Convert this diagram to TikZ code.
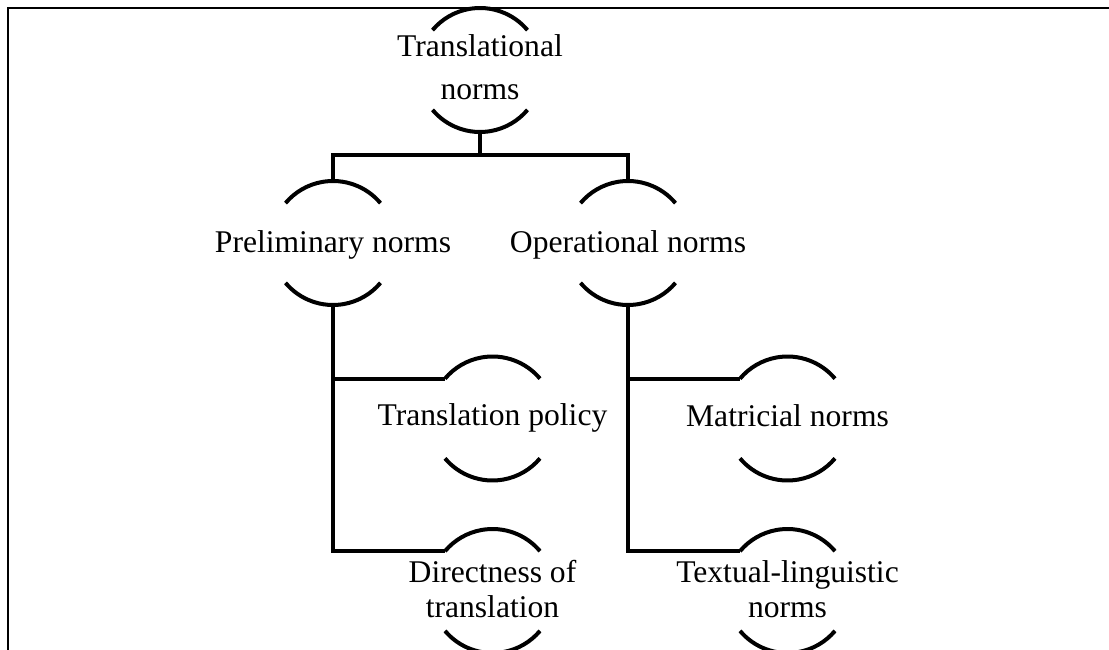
\documentclass[tikz,border=0pt]{standalone}
\usepackage{fontspec}
\setmainfont{Liberation Serif}
\begin{document}
\begin{tikzpicture}[x=1pt,y=1pt,
  hub/.style={circle,draw=none,minimum size=124pt,inner sep=0pt,outer sep=0pt},
  lbl/.style={anchor=base,inner sep=0pt,font=\fontsize{31.6pt}{38pt}\selectfont},
  arcline/.style={line width=4pt},
  link/.style={line width=4pt,line join=miter},
  frame/.style={line width=2.2pt}]
\clip (0,0) rectangle (1109,-650);
% outer frame (runs past the right and lower edges)
\draw[frame] (8,-8) rectangle (1200,-720);

% node centres (each concept sits inside a pair of arcs)
\node[hub] (R)  at (480,-70) {};
\node[hub] (P)  at (333,-243) {};
\node[hub] (O)  at (628,-243) {};
\node[hub] (TP) at (492.5,-418.5) {};
\node[hub] (DT) at (492.5,-591) {};
\node[hub] (MN) at (787.5,-418.5) {};
\node[hub] (TL) at (787.5,-591) {};

% upper and lower arcs around every concept
\foreach \n in {R,P,O,TP,DT,MN,TL}{
  \draw[arcline] (\n.40) arc[start angle=40,end angle=140,radius=62pt];
  \draw[arcline] (\n.220) arc[start angle=220,end angle=320,radius=62pt];
}

% labels
\node[lbl] (Rt1) at (480,-57) {Translational};
\node[lbl] (Rt2) at (480,-100) {norms};
\node[lbl] (Pt)  at (333,-252) {Preliminary norms};
\node[lbl] (Ot)  at (628,-252) {Operational norms};
\node[lbl] (TPt) at (492.5,-425.5) {Translation policy};
\node[lbl] (MNt) at (787.5,-426.5) {Matricial norms};
\node[lbl] (DTt1) at (492.5,-582) {Directness of};
\node[lbl] (DTt2) at (492.5,-617) {translation};
\node[lbl] (TLt1) at (787.5,-582) {Textual-linguistic};
\node[lbl] (TLt2) at (787.5,-617) {norms};

% tree connectors
\coordinate (bar) at (480,-155);
\draw[link] (R.south) -- (bar);
\draw[link] (P.north) -- (P.north |- bar) -- (O.north |- bar) -- (O.north);
\draw[link] (P.south) |- (TP.140);
\draw[link] (P.south) |- (DT.140);
\draw[link] (O.south) |- (MN.140);
\draw[link] (O.south) |- (TL.140);
\end{tikzpicture}
\end{document}
